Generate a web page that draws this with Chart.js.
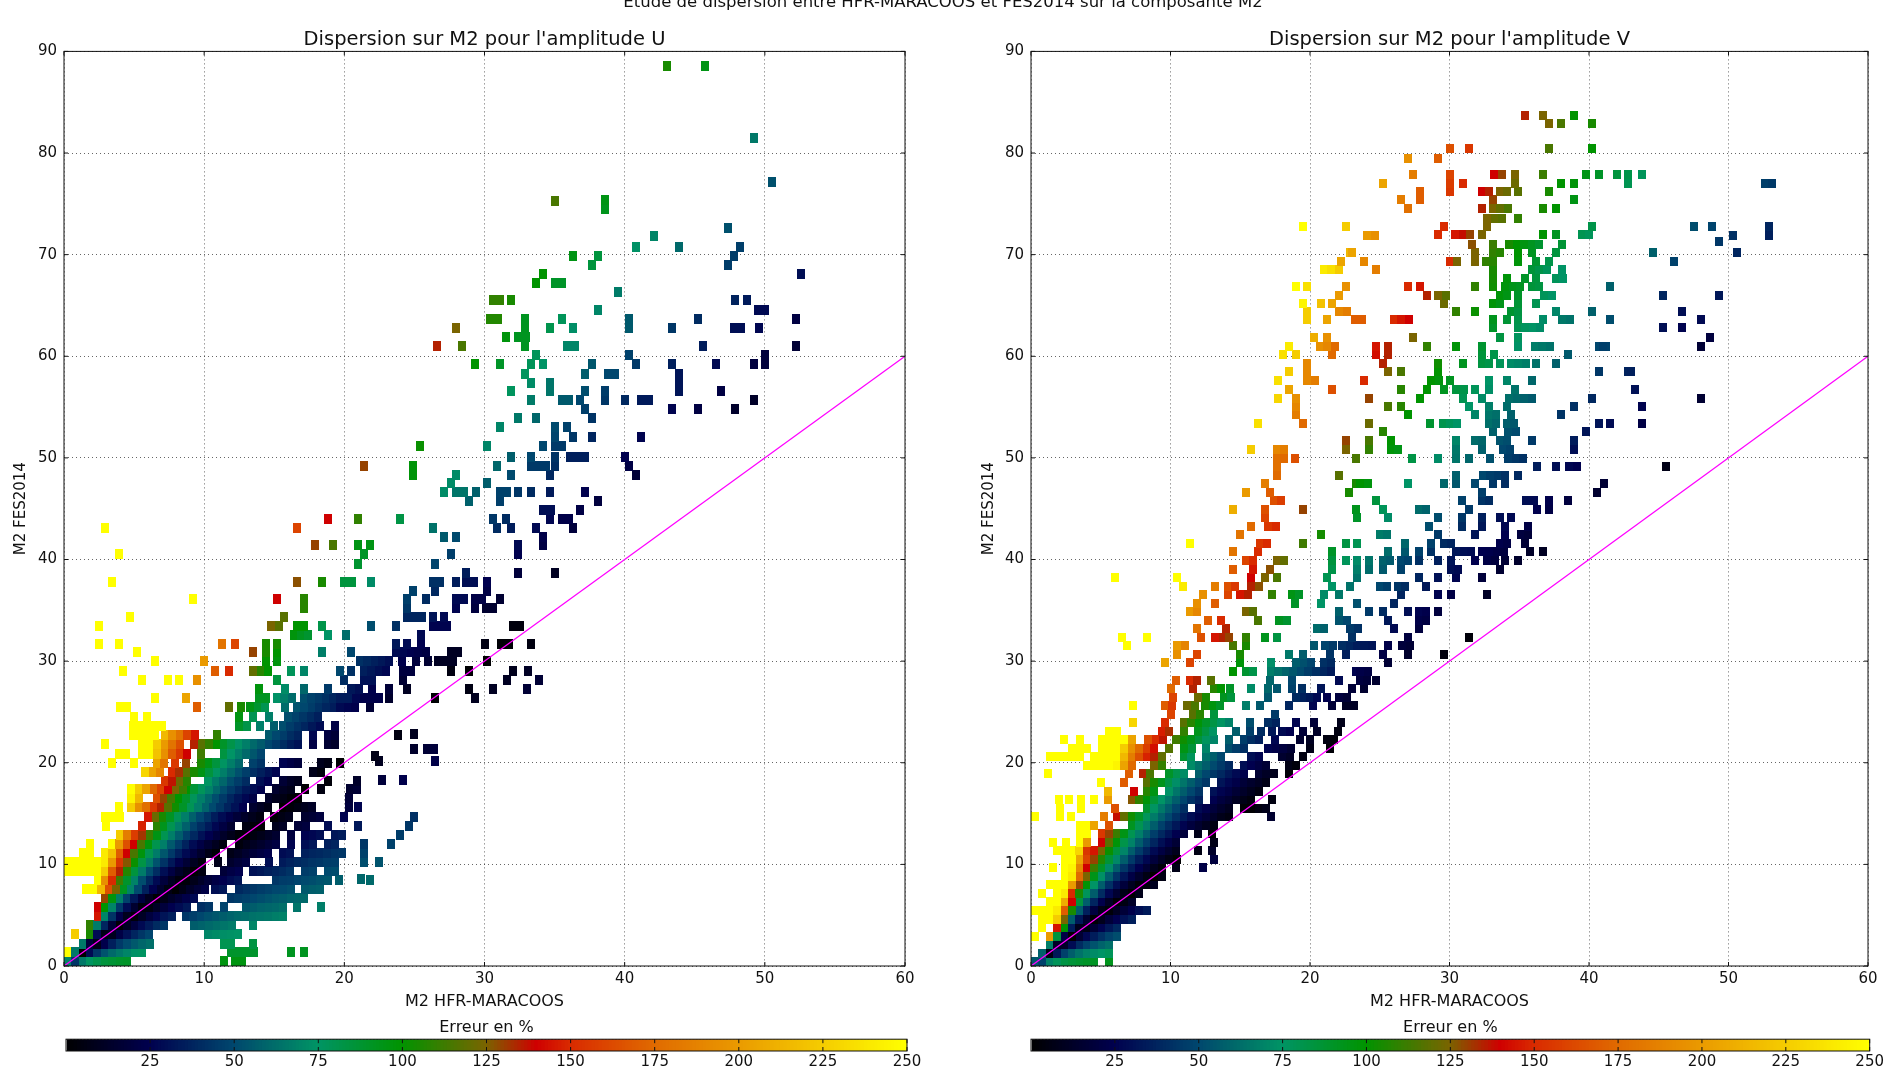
<!DOCTYPE html>
<html>
<head>
<meta charset="utf-8">
<title>Dispersion M2</title>
<script src="https://cdn.jsdelivr.net/npm/chart.js@4/dist/chart.umd.min.js"></script>
<style>
  html, body { margin: 0; height: 100%; background: #fff; overflow: hidden; }
  canvas { position: absolute; filter: blur(0.65px); }
  #title { position: absolute; left: 0; width: 1886px; top: -7px; text-align: center; font: 16.5px "DejaVu Sans"; line-height: 18px; color: #111; filter: blur(0.6px); }
</style>
</head>
<body>
<div id="title">Etude de dispersion entre HFR-MARACOOS et FES2014 sur la composante M2</div>
<canvas id="panelU" width="925" height="1012" style="left:0;top:0"></canvas>
<canvas id="panelV" width="921" height="1012" style="left:965px;top:0"></canvas>
<canvas id="barU" width="932" height="53" style="left:0;top:1016px"></canvas>
<canvas id="barV" width="921" height="53" style="left:965px;top:1016px"></canvas>
<script>
// every row: [amplitude FES2014, first HFR amplitude of the run, error % of each cell in the run]
const xTicksMax = 60;
const yTicksMax = 90;
const barLabels = [25, 50, 75, 100, 125, 150, 175, 200, 225, 250];
const cmapValues = [0, 25, 50, 75, 100, 125, 140, 150, 175, 200, 225, 250];
const cmapColors = ["#000000", "#00004e", "#00476e", "#009465", "#009400", "#7a6400", "#cf0000", "#d92a00", "#e06a00", "#ea9a00", "#f5cc00", "#ffff00"];
const diagonal = [0, 60];

const uLow = [
[0.45,0.27,70,44,66,76,81,85,87,89,90],[0.45,11.4,96],[0.45,12.2,96,96],
[1.33,0.27,250,66,0,28,44,54,61,66,70,74,76],[1.33,11.9,89],[1.33,12.5,89,89,89],[1.33,16.2,92],[1.33,17.1,92],
[2.2,1.33,66,19,8,24,36,45,51,56,60,63],[2.2,11.4,80,80],[2.2,13.5,84],
[3.1,0.8,225],[3.1,1.85,105,29,7,10,22,31,38,44,49],[3.1,10.3,70,72,73,74,75],
[4,1.85,110,67,38,18,2,11,20,28,34,40,44],[4,9.3,57,59,61,63,65],[4,12,67],[4,13.5,70],
[4.9,2.4,145,70,43,23,9,3,12,20,26,32,36],[4.9,8.7,44,47,50,53,55,57,59,61,62,64],[4.9,14,65,66],[4.9,15.1,68,69],
[5.8,2.4,140,100,70,45,29,15,4,5,12,19,25,29,33],[5.8,9.8,41,44],[5.8,11.4,49],[5.8,13,55,57,59,60,61,63],[5.8,16.6,65],[5.8,18.3,68],
[6.7,2.9,130,97,68,48,33,20,10,1,7,13,18,23,28],[6.7,11.9,44,46],[6.7,13,48,50,52,54,56,57,59,60],[6.7,17.1,61],
[7.6,1.6,250,250,215,165,125,92,69,51,36,25,15,6,1,7,13,18,22],[7.6,10.8,30,33],[7.6,12.5,39,42,44,46,48,50,51,53],[7.6,17.2,56,57,58],
[8.5,2.4,250,195,150,113,89,69,52,39,28,19,11,4,3,8,13],[8.5,10.3,18,22,25,29,32],[8.5,15.1,44,46,47,49,51,52,54],[8.5,18.8,55],[8.5,19.6,57],[8.5,21.8,61],[8.6,21.2,60],
[9.3,0.27,250,250,250,250,250,225,170,135,107,85,67,52,41,30,21,13,7,1,5],[9.3,11.4,18,22,25],[9.3,13.5,31,33,36,38,40,43],[9.3,17.2,46,48],[9.3,18.8,51,52],
[10.2,0.27,250,250,250,250,250,240,200,155,127,102,83,67,54,43,33,24,17,10,4],[10.2,11,8],[10.2,11.9,14,18,21],[10.2,14.6,30],[10.2,15.6,34,37,39,41,43,44,46,47],[10.2,21.4,52],[10.2,22.5,54],
[11.1,1.33,250,250],[11.1,2.9,240,220,170,140,115,97,80,67,55,45,36,28,21,14,7,2],[11.1,11.9,7,11,15,18,21,24],[11.1,15.6,29,31],[11.1,17.2,36,38,39,41,43,44],[11.1,21.4,48],
[12,1.85,250],[12,3.4,250,200,165,140,115,97,81,68,56,46,37,29,22,16,10,5],[12,12.5,4,8,11,14,18,21],[12,16.2,26],[12,17.2,30,33],[12,18.8,36,38],[12,21.4,44],[12,23.3,48],
[12.9,4,225,185,157,132,112,95,80,68,57,47,39,31,25,19,13,8,3,1,5,8,12,15],[12.9,16.2,20],[12.9,17.2,25,27,30],[12.9,19.3,33,35],[12.9,24,46],
[13.8,5.6,148],[13.8,3,250],[13.8,6.6,108,93,80,68,58,48,41,34,27,21,15],[13.8,13,6,2,1],[13.8,15.1,9,12],[13.8,16.7,18,20],[13.8,18.8,29],[13.8,21,33],[13.8,24.6,44],
[14.7,2.9,250,250,250],[14.7,6,145,122,105,91,79,68,58,50,43,35,29,23,18,13,9,5],[14.7,15,2,6,9],[14.7,17.2,15,17,20],[14.7,20,26],[14.7,25,42],
[15.6,3.9,250],[15.6,4.8,225,195,178,155,135,118,103,90,79,68,59,51,44,37,31,25],[15.6,13.5,15,11,7],[15.6,15.6,0,3,6,9,12],[15.6,20.3,20],[15.6,21,26],
[16.5,4.8,245,215],[16.5,6.6,165,130,114,100,89,78,68,60,52,45,38,32,27,22],[16.5,14.6,13,9,6,2,1],[16.5,20.3,18],
[17.4,4.8,250,225,205,175,160,140,125,112,100],[17.4,9.3,87,78,69,60,52,45,39,33,29,24],[17.4,15.1,15,11,8],[17.4,17.2,1],[17.4,18.3,5],[17.4,20.4,15,17],
[18.2,7.2,155,137,122,108],[18.2,10.3,76,67,60,52,46,40],[18.2,14,30,25],[18.2,15.6,17],[18.2,16.2,12,9],[18.2,18.8,3],[18.2,20.9,13],[18.3,22.7,19],[18.3,24.2,24],
[19.1,5.8,230,205,190],[19.1,7.7,150,133,118,105,95,85,76,68,60,53,47,41,36,31,26],[19.1,17.8,8,4],
[20,3.4,250],[20,5,250],[20,6.6,205,180],[20,7.9,155],[20,8.7,130],[20,9.8,105,95,85,76,68,60],[20,13.5,48,43],[20,15.6,26],[20,16.2,22,19],[20,18.3,9,6],[20,19.7,1],[20.2,22.5,10],[20.2,26.5,23],
[20.9,3.9,250,250],[20.9,5.6,250,250,220,195,170,155,140],[20.9,9.8,113],[20.9,11.4,84,75,68,61,55,49],[20.7,22.2,7],
[21.8,2.9,250],[21.8,5.6,250,250,225,200,180,165],[21.8,9.3,135,118,110,100,90,82,74,68,61,56,50,45,40,35,31],[21.8,17.8,22],[21.8,18.8,16,13],[21.4,25,14],[21.4,25.9,17,19],
[22.7,4.9,250,250,250,250],[22.7,7.2,215,195,180,160,145],[22.7,10.9,110],[22.7,14.6,56,50,46,41,37],[22.7,17.8,27],[22.7,18.8,21,18],[22.7,23.8,5],[22.8,25,10],
[23.6,4.9,250,250,250,250,250],[23.6,12.5,90,82],[23.6,14,68],[23.6,15,57],[23.6,15.6,52,46,42,38,33,29],[23.6,19.3,22],
[24.5,5,250],[24.5,5.9,250],[24.5,12.5,96],[24.5,13.5,80],[24.5,14.6,68],[24.5,16,52,48,44,40,36]
];
const uMid = [
[25.5,4,250,250],[25.5,9.5,170],[25.5,11.8,120],[25.5,12.6,105],[25.5,13.3,95,88,80],[25.5,15.8,62],[25.5,16.6,54,50,46,42,38,35],[25.5,19.7,28,26,24],[25.5,21.8,17],
[26.4,6.5,250],[26.4,8.7,205],[26.4,13.9,92,92],[26.4,15.2,74,68,62],[26.4,17.1,52,48,45,42,38],[26.4,19.7,34,34],[26.4,20.8,27],[26.4,21.4,23,23,23],[26.4,23.2,14],[26.4,26.5,1],[26.4,29.3,10],
[27.3,13.9,97],[27.3,15.8,72],[27.3,17.1,60],[27.3,18.8,45],[27.3,20.5,33,30],[27.3,22,24],[27.3,23.2,18],[27.3,24.5,11],[27.3,28.9,6],[27.3,30.6,11],[27.3,33,17],
[28.1,5.6,250],[28.1,7.4,250],[28.1,8.2,250],[28.1,9.5,195],[28.1,15.2,85],[28.1,20,40],[28.1,21.4,31],[28.1,22,31],[28.1,24.2,16],[28.1,31.6,11],[28.1,33.9,17],
[29,4.2,250],[29,10.8,170],[29,11.8,150],[29,13.5,120,108,100],[29,16.2,78],[29,17.1,70],[29,19.7,50],[29,20.5,42],[29,21.4,36,33,30,27],[29,24.2,20,20],[29,27.6,5],[29,28.9,1],[29,32,9],[29,33.1,12],
[30,6.5,250],[30,10,200],[30,14.4,100],[30,15.2,97],[30,21.1,42,39,36,33,30],[30,24.1,24],[30,25.1,20],[30,26,16],[30,26.7,11,11,11],[30,30.2,1],
[30.9,5.2,250],[30.9,13.5,130],[30.9,14.4,105],[30.9,15.2,100],[30.9,18.4,68],[30.9,20.5,50],[30.9,23.7,29,27,25,23,21],[30.9,27.6,11,11],
[31.7,2.5,250],[31.7,3.9,250],[31.7,11.3,180],[31.7,12.2,160],[31.7,14.4,105],[31.7,15.2,105],[31.7,23.7,33],[31.7,24.5,29],[31.7,25.5,25],[31.7,30,6],[31.7,31.2,2,2],[31.7,33.3,5],
[32.6,16.4,97],[32.6,16.9,92,88],[32.6,18.8,75],[32.6,20.1,62],[32.6,25.5,28],
[33.5,2.5,250],[33.5,14.8,125,118],[33.5,16.6,100,100],[33.5,18.4,82],[33.5,21.9,52],[33.5,23.7,42],[33.5,26.3,26,26,26],[33.5,32,4,4],
[34.3,4.7,250],[34.3,15.7,118],[34.3,24.5,38,38,38],[34.3,26.3,32],[34.3,27.1,28],
[35.2,17.1,108],[35.2,24.5,44],[35.2,28,26],[35.2,29.3,20],[35.2,30.1,15,15],
[36.1,9.2,250],[36.1,15.2,140],[36.1,17.1,108],[36.1,24.5,47],[36.1,25.8,40],[36.1,28,28,28],[36.1,29.3,22,22],[36.1,31.1,16],
[36.9,24.9,48],[36.9,26.5,39],[36.9,30.2,22],
[37.8,3.4,250],[37.8,16.6,128],[37.8,18.4,105],[37.8,20,85,85],[37.8,21.9,72],[37.8,26.3,42,42],[37.8,28,35],[37.8,28.7,30,30],[37.8,30.2,25],
[38.7,28.7,35],[38.7,32.4,19],[38.7,35,11],
[39.6,21,88],[39.6,26.5,49],
[40.5,3.9,250],[40.5,21.4,90],[40.5,27.6,47],[40.5,32.4,25],
[41.4,17.9,130],[41.4,19.2,115],[41.4,21,95],[41.4,21.8,95],[41.4,32.4,28],[41.4,34.2,21],
[42.2,27.1,56],[42.2,28,51],[42.2,34.2,23],
[43.1,2.9,250],[43.1,16.6,160],[43.1,26.3,64],[43.1,30.9,40],[43.1,31.9,35],[43.1,33.7,28],[43.1,36.3,19],
[44,18.8,140],[44,21,110],[44,24,83],[44,30.6,44],[44,31.5,40],[44,34.7,27],[44,35.5,23,23],
[44.9,34.2,30,30],[44.9,36.8,22],
[45.8,28.9,58],[45.8,31.1,47],[45.8,38.1,20],
[46.6,27.1,72],[46.6,28,65,65],[46.6,29.4,58],[46.6,31.1,48,48],[46.6,32.4,44],[46.6,33.3,40],[46.6,34.7,34],[46.6,37.2,25],
[47.5,27.6,72],[47.5,30.2,57],
[48.3,24.9,98],[48.3,28,72],[48.3,31.9,51],[48.3,34.7,39],[48.3,40.8,18]
];
const uHigh = [
[49.2,21.4,130],[49.2,24.9,98],[49.2,30.9,60],[49.2,33.3,45,45,45],[49.2,35,41],[49.2,40.3,22],
[50.1,31.9,57],[50.1,33.3,50],[50.1,35,43],[50.1,36.1,36,36,36],[50.1,40,25],
[51.2,25.4,102],[51.2,30.2,70],[51.2,34.2,50],[51.2,35,45,45],
[52.1,35,49],[52.1,36.3,44],[52.1,37.7,38],[52.1,41.2,26],
[53,31.1,70],[53,35,51],[53,35.9,48],
[53.9,32.4,66],[53.9,33.7,60],[53.9,37.7,43],
[54.8,37.2,47],[54.8,43.4,26],[54.8,45.2,21],[54.8,47.9,14],
[55.7,33.3,67],[55.7,35.5,56,56],[55.7,36.8,50],[55.7,38.6,44],[55.7,40,39],[55.7,41.2,34,34],[55.7,49.2,13],
[56.6,31.9,77],[56.6,34.7,65],[56.6,37.2,52],[56.6,38.6,46],[56.6,43.9,32],[56.6,46.9,21],
[57.4,33.3,72],[57.4,34.7,65],[57.4,43.9,32],
[58.3,32.9,77],[58.3,37.2,57],[58.3,38.8,50,50],[58.3,43.9,32],
[59.2,29.3,100],[59.2,31.1,90],[59.2,33.3,78],[59.2,34.2,75],[59.2,37.7,55],[59.2,40.8,45],[59.2,43.4,36],[59.2,46.5,28],[59.2,49.2,20],[59.2,50,19],
[60.1,33.7,78],[60.1,40.3,48],[60.1,50,19],
[61,26.6,135],[61,28.4,115],[61,32.9,92],[61,35.9,70,70],[61,45.6,35],[61,52.2,17],
[61.9,31.5,97],[61.9,32.4,92,92],
[62.8,28,125],[62.8,32.9,92],[62.8,34.7,81],[62.8,36.3,73],[62.8,40.3,56],[62.8,43.4,44],[62.8,47.8,30,30],[62.8,49.6,27],
[63.7,30.4,107,107],[63.7,32.9,92],[63.7,35.5,78],[63.7,40.3,56],[63.7,45.2,40],[63.7,52.2,21],
[64.6,38.1,70],[64.6,49.5,28,28],
[65.5,30.6,110,110],[65.5,31.9,105],[65.5,47.9,37],[65.5,48.7,34],
[66.3,39.5,67],
[67.2,33.7,100],[67.2,35,90,90],
[68.1,34.2,100],[68.1,52.6,30],
[69,37.7,85],[69,47.4,46],
[69.9,36.3,95],[69.9,38.1,85],[69.9,47.8,46],
[70.8,40.8,74],[70.8,43.9,61],[70.8,48.2,47],
[71.8,42.1,70],
[72.6,47.4,53],
[74.5,38.6,93],[75.3,35,115],[75.4,38.6,95],
[77.1,50.5,53],[81.5,49.2,66],
[88.6,43,105],[88.6,45.7,95]
];

const vLow = [
[0.42,0.27,55,48,69,78,83,86,88,90,91],[0.42,5.62,93],
[1.26,0.8,58,6,33,48,57,64,69,72,75,78],
[2.1,1.34,68,12,13,29,40,48,54,59,63],
[2.94,0.27,250],[2.94,1.34,200,85,22,1,16,27,35,42,48,52],
[3.78,0.8,250],[3.78,1.87,145,100,35,9,6,17,26,33,39],
[4.62,0.8,250,250,225,125,57,33,15,2,9,18,25,31,36],
[5.46,0.27,250,250,250,240,170,105,57,36,20,8,3,11,18,24,30,34],
[6.3,1.34,250,250,210,140,85,57,38,24,12,2,6,13],
[7.14,0.8,250],[7.14,1.87,250,240,150,105,78,57,40,27,16,7,1,8],
[7.98,1.34,250,250,250,200,130,99,75,57,42,30,19,10,3,4,10],
[8.82,2.41,250,240,175,125,94,74,57,43,32,22,14,6,0,6],
[9.66,1.6,250],[9.66,2.41,250,245,190,140,112,90,72,57,44,34,25,17,9,3],[9.66,10.4,7],[9.66,12.3,22],
[10.5,2.41,250,250,205,160,130,107,87,71,57,45,35,27,19,12,6,1],[10.5,13.1,20],
[11.34,1.87,250,250,250,230,155,145,125,102,85,70,57,46,37,28,21,15,9],[11.34,12,6],[11.34,13,13],
[12.18,1.6,250],[12.18,2.5,250],[12.18,3.5,250,200],[12.18,5.08,140,118,98,82,69,57,47,38,30,23,17],[12.18,13.1,7],
[13.02,3.48,250,250],[13.02,5.08,155,130,112,95],[13.02,7.22,80,68,57,47,39,32,25,19],[13.02,12,8],[13.02,13,1],
[13.86,3.48,250,250,205],[13.86,5.62,165],[13.86,7.22,92,80,68,57,48,40,33,26,20,15,10,6],
[14.7,0.3,250],[14.7,2.1,250],[14.7,2.9,250],[14.7,5.2,185],[14.7,6.15,138,120,103,90,78,67,58,50,42,35,29,23,18,13,8,5],[14.7,17.2,15],
[15.54,2.1,250],[15.54,3.6,250],[15.54,6,165],[15.54,8.29,88,76,66,57,49,41],[15.54,12.04,29,24,19,14,10],[15.54,15.25,2,1,5,8],
[16.38,2,250],[16.38,2.7,250],[16.38,3.6,250],[16.38,4.5,250],[16.38,5.5,200],[16.38,7.22,127,110,98,86,75,66,57,49,42,36],[16.38,13.1,25,20,16,11,7,4],[16.38,17.3,5],
[17.22,5.5,215],[17.22,7.4,140],[17.22,8.29,108,95],[17.22,9.9,74,65,57,50,43],[17.22,13.1,31,26,22,17,13,9,5],
[18.06,5,250],[18.06,6.7,170],[18.06,8.29,118,105,93,83,73,65,57,50,44],[18.06,13.64,32,27,23,18,14,11,7],
[18.9,1.2,250],[18.9,7,170],[18.9,8,135,115],[18.9,9.9,90,81],[18.9,10.97,72],[18.9,12.04,57,50,44,39,33,28,24],[18.9,16.32,16,12,9],[18.9,18.46,2],
[19.74,4.01,250,250,250,250,245,205,175],[19.74,8.83,125,110],[19.74,11.5,72,64,57,51,45,39],[19.74,15.25,30,25,21,17],[19.74,18.46,7],[19.74,19,4],
[20.58,1.34,250,250,250,250,250],[20.58,4.55,250,250,250,250,215,185,165,148,135,120],[20.58,10.97,88,78],[20.58,12.57,64,57,50],[20.58,15.78,30,26],[20.58,18,15,12],[20.58,19.5,5],
[21.42,2.94,250,250,250],[21.42,5.08,250,250,250,225,195,175,158,143],[21.42,9.9,117],[21.42,11,95,86],[21.42,12.57,70],[21.42,14.17,52,46,41],[21.42,17,26,23,20,16],[21.42,20,7],[21.42,21.4,2],
[22.26,2.4,250],[22.26,3.5,250],[22.26,5.08,250,250,250,250,205],[22.26,8.4,165,150,137],[22.26,10.43,113,103,94,86,77,70],[22.26,14.17,57],[22.26,15.25,46,41,36],[22.26,17.5,27],[22.26,19.3,15],[22.26,20,11],[22.26,21.2,5,3],
[23.1,5.6,250,250],[23.1,9.36,147,133],[23.1,11,110],[23.1,12,93,84,76],[23.1,14.7,57],[23.1,15.7,47],[23.1,16.5,40],[23.1,17.3,33],[23.1,18,28,25],[23.1,19.5,18],[23.1,20.5,13],[23.1,22,5],
[23.94,7.3,230],[23.94,9.6,150],[23.94,10.97,118,108,98,90,83,76,69],[23.94,15.7,52],[23.94,17,41,37],[23.94,19,26],[23.94,20.3,18],[23.94,22.2,8],
[24.78,10,160],[24.78,11.6,118,108],[24.78,13.1,85],[24.78,17.5,45]
];
const vMid = [
[25.62,7.3,250],[25.62,9.6,170,155],[25.62,11.2,122,115],[25.62,12.5,105,97,90],[25.62,15.4,68],[25.62,16.4,56],[25.62,18.5,38],[25.62,20.2,27],[25.62,21.6,18],[25.62,22.6,12,12],
[26.46,10.2,160],[26.46,12,122,105],[26.46,13.8,92,85],[26.46,17,55],[26.46,19,40,36],[26.46,20,33,28],[26.46,21.2,25],[26.46,22.1,20,17],
[27.3,10,175],[27.3,11.6,135],[27.3,13.1,108,100],[27.3,14.3,90],[27.3,15.8,72],[27.3,17,60],[27.3,17.6,55],[27.3,18.7,48],[27.3,19.4,41],[27.3,20.8,32],[27.3,23,18],[27.3,23.9,15],
[28.14,10.4,170],[28.14,11.4,150,135],[28.14,12.9,118],[28.14,17.1,60],[28.14,18.7,50],[28.14,22.1,28],[28.14,23.6,20],[28.14,24.1,18],[28.14,24.7,15],
[28.98,14.5,100],[28.98,15.4,88,82],[28.98,17.2,68,64,59,55,51,46,42],[28.98,21,38,34],[28.98,23.3,26],[28.98,23.6,23,21],
[29.82,9.6,205],[29.82,11.4,160],[29.82,15,98],[29.82,17.2,73],[29.82,19,57,53,49],[29.82,21,42,39],[29.82,25.6,17],
[30.66,10.5,195],[30.66,11.9,160],[30.66,15,105],[30.66,18.5,66],[30.66,19.5,57],[30.66,21.4,43],[30.66,22.6,36],[30.66,25.2,22],[30.66,27,14],[30.66,29.6,4],
[31.5,6.9,250],[31.5,10.5,200,188],[31.5,14.5,115],[31.5,15.4,105],[31.5,20.3,55],[31.5,21.1,49,45],[31.5,22.3,41,38,35,33,32],[31.5,25.6,23],[31.5,26.6,19,17],
[32.34,6.5,250],[32.34,8.3,250],[32.34,12.2,165],[32.34,13.2,145,135],[32.34,14.2,130],[32.34,15.4,110],[32.34,16.8,93],[32.34,17.6,84],[32.34,23,42],[32.34,27,20],[32.34,31.4,3],
[33.18,11.9,180],[33.18,14,135],[33.18,20.5,62],[33.18,21,58],[33.18,22.9,45,42],[33.18,26,28],[33.18,27.8,20],
[34.02,12.7,170],[34.02,13.6,150],[34.02,16.3,115],[34.02,17.8,92,88],[34.02,22.1,54,50],[34.02,25.6,33],[34.02,27.8,23,21],
[34.86,11.4,200,190],[34.86,15.4,125,118],[34.86,22.1,58],[34.86,24.2,45],[34.86,25.2,40],[34.86,27,30],[34.86,27.8,26,24],[34.86,29.2,20],
[35.7,11.9,195],[35.7,13.2,170],[35.7,18.9,90],[35.7,20.8,75],[35.7,23.4,53],[35.7,26,38],
[36.54,12.3,195],[36.54,14.1,160],[36.54,15,145,135],[36.54,17.3,110],[36.54,18.7,95,90],[36.54,21,72],[36.54,22.1,66],[36.54,26.5,38],[36.54,29.2,26],[36.54,30.1,22],[36.54,32.7,12],
[37.38,10.9,240],[37.38,13.2,185],[37.38,14.1,165,155],[37.38,15.8,135,128],[37.38,21.6,75],[37.38,22.9,64],[37.38,25,50,47],[37.38,26.3,44,41],[37.38,28.3,33],
[38.22,6,250],[38.22,10.5,250],[38.22,15.8,140],[38.22,16.8,125],[38.22,17.6,115],[38.22,21.2,80],[38.22,23.4,64],[38.22,27.8,38],[38.22,29.2,31],[38.22,30.5,26],[38.22,32.3,19],
[39.06,14.5,170],[39.06,15.9,145],[39.06,17.1,128],[39.06,21.6,82],[39.06,23.4,68],[39.06,24.2,62],[39.06,25.2,56],[39.06,26.5,48],[39.06,30.1,30,28],[39.06,33.6,16],
[39.9,15.4,160,150],[39.9,17.6,125,120],[39.9,21.6,85],[39.9,22.6,78],[39.9,23.4,72],[39.9,24.2,65],[39.9,25.2,58,56],[39.9,26.5,50,48],[39.9,27.8,42],[39.9,29.2,36],[39.9,30.1,32],[39.9,31.8,25],[39.9,32.7,22,20],[39.9,34,17],[39.9,34.9,14],
[40.74,14.5,180],[40.74,16.3,150],[40.74,21.6,90],[40.74,25.6,62],[40.74,26.8,55],[40.74,27.8,48],[40.74,28.7,42],[40.74,30.5,33,30,29],[40.74,32.3,25,24,22,20],[40.74,35.8,13],[40.74,36.7,11],
[41.58,11.4,250],[41.58,16.4,155,150],[41.58,19.5,113],[41.58,22.6,84],[41.58,23.4,80],[41.58,26.8,60],[41.58,28.7,48],[41.58,29.6,40,38],[41.58,33.6,24,22],[41.58,35.4,17],
[42.42,15,180],[42.42,20.8,104],[42.42,25,67,65],[42.42,29.2,45],[42.42,31.8,32],[42.42,34,25],[42.42,35.1,20,18],
[43.26,15.8,175],[43.26,17,155,150],[43.26,28.5,52],[43.26,30.9,40],[43.26,32.3,33],[43.26,34,27],[43.26,35.6,22],
[44.1,16.8,160],[44.1,23.4,90],[44.1,25.6,72],[44.1,29.2,52],[44.1,30.9,44],[44.1,32.3,36],[44.1,33.6,30],[44.1,34.4,28],
[44.94,14.5,210],[44.94,16.8,165],[44.94,19.5,130],[44.94,23.3,93],[44.94,25.2,78],[44.94,27.8,62,59],[44.94,31.4,45],[44.94,36.3,25],[44.94,37.1,22],
[45.78,17.4,165,158],[45.78,24.7,85],[45.78,30.9,48],[45.78,32.3,43,40],[45.78,35.5,30,28],[45.78,37.1,24],[45.78,38.5,20],
[46.62,15.4,200],[46.62,17.1,170],[46.62,22.8,105],[46.62,32.3,47],[46.62,40.6,15],
[47.46,16.8,185],[47.46,23.3,105],[47.46,23.6,100,97],[47.46,27,75],[47.46,29.6,60],[47.46,30.5,55],[47.46,31.8,50],[47.46,33.1,44],[47.46,34,40],[47.46,41.1,17],
[48.3,17.6,175],[48.3,22.1,118],[48.3,30.5,58],[48.3,32.4,50,47,45],[48.3,34,42],[48.3,34.9,39],
[49.14,17.6,178],[49.14,36.3,35],[49.14,37.6,30],[49.14,38.6,27,25],[49.14,45.5,7],
[49.98,17.6,178,175],[49.98,18.9,165],[49.98,23.3,115],[49.98,27.3,83],[49.98,29.2,72],[49.98,30.5,65],[49.98,31.4,60],[49.98,32.9,53],[49.98,34.2,46,44,42],
[50.82,15.8,225],[50.82,17.6,190,185],[50.82,22.6,125],[50.82,24.2,110],[50.82,25.8,98,95],[50.82,30.5,66],[50.82,32.3,58],[50.82,33.8,50,48],[50.82,38.9,30]
];
const vHigh = [
[51.7,22.6,130],[51.7,24.2,115],[51.7,25.8,100],[51.7,30.5,70],[51.7,31.8,62,60],[51.7,33.6,54,52],[51.7,35.9,45],[51.7,38.9,35],
[52.6,25.2,108],[52.6,33.1,58],[52.6,34.2,53,51],[52.6,39.8,32],
[53.4,16.3,235],[53.4,19.5,175],[53.4,24.2,122],[53.4,28.6,88],[53.4,29.5,81,78,75],[53.4,32.8,63,60],[53.4,34.1,57,55],[53.4,40.7,32],[53.4,41.5,29],[53.4,43.8,22],
[54.3,19,185],[54.3,27,100],[54.3,31.8,70],[54.3,32.8,65,63],[54.3,34.4,58],[54.3,38,43],
[55.1,19,190],[55.1,25.6,115],[55.1,26.5,108],[55.1,31.4,75],[55.1,32.8,68],[55.1,34.1,62],[55.1,38.9,42],[55.1,43.8,26],
[55.8,17.7,230],[55.8,19,195],[55.8,24.2,130],[55.8,27.9,100],[55.8,31,80],[55.8,32.3,72],[55.8,34.3,63,61,58,56],[55.8,40.2,39],[55.8,48,16],
[56.7,18.5,205],[56.7,21.6,165],[56.7,26.5,108],[56.7,28.4,100],[56.7,29.6,92],[56.7,30.5,85,82],[56.7,31.8,78],[56.7,32.8,73],[56.7,34.7,64],[56.7,43.3,31],
[57.6,17.7,235],[57.6,19.8,190,185],[57.6,23.9,150],[57.6,28.7,100,97],[57.6,30,92],[57.6,32.8,75],[57.6,34.1,70],[57.6,35.9,60],
[58.5,18.5,225],[58.5,19.8,190],[58.5,25.6,125],[58.5,26.5,115],[58.5,29.2,100],[58.5,40.7,44],[58.5,42.8,37],[58.5,43,36],
[59.3,19.8,190],[59.3,25.2,135],[59.3,29.2,103],[59.3,31,92],[59.3,32.3,84,82],[59.3,33.6,78],[59.3,34.4,72,70,68],[59.3,36.2,64],[59.3,37.6,58],
[60.2,18.1,235],[60.2,19,225],[60.2,21.6,175],[60.2,24.7,143],[60.2,25.6,135],[60.2,32.3,86],[60.2,33.2,82],[60.2,38.5,56],
[61,18.5,240],[61,20.7,195,190,175],[61,24.7,145],[61,25.6,135],[61,28.4,110],[61,30.5,98],[61,32.3,88],[61,34.9,74],[61,36.1,68,66,64],[61,40.7,50,48],[61,41,47],[61,48,17],
[61.8,20.3,210],[61.8,21.2,195],[61.8,27.4,125],[61.8,33.6,84],[61.8,34.9,77],[61.8,48.7,20],
[62.8,33.1,90],[62.8,34.9,80,77,75,72],[62.8,45.3,30],[62.8,46.7,26],
[63.6,19.8,225],[63.6,21.2,205],[63.6,23.2,170,170],[63.6,26,150,145,140],[63.6,33.1,93],[63.6,34.1,87],[63.6,34.9,82],[63.6,36.7,72],[63.6,38.1,66,64],[63.6,41.5,52],[63.6,48,28],
[64.4,19.8,225],[64.4,22.1,190,185],[64.4,30.5,110],[64.4,31.8,102],[64.4,34.4,88],[64.4,34.9,84],[64.4,37.6,70],[64.4,40.2,58],[64.4,46.7,30],
[65.2,19.5,245],[65.2,20.8,220],[65.2,21.6,205],[65.2,29.6,122],[65.2,33.1,98,94],[65.2,34.9,87],[65.2,36.2,80],
[66,22.1,200],[66,28.4,135],[66,29.2,125,118],[66,33.6,98,95],[66,34.9,90],[66,36.8,78,75],[66,45.3,38],[66,49.3,33],
[66.9,19,250],[66.9,19.8,235],[66.9,22.6,195],[66.9,27,150],[66.9,27.9,145],[66.9,31.8,110],[66.9,33.1,103],[66.9,34,97,94,92],[66.9,35.9,86,84],[66.9,41.5,58],
[67.7,33.1,104],[67.7,34.1,98],[67.7,35.4,90],[67.7,36.2,85],[67.7,37.6,78,75],
[68.5,21,240,235,225],[68.5,24.7,185],[68.5,33.1,105],[68.5,35.9,86,82,78],[68.5,38.1,75],
[69.3,22.2,205],[69.3,23.9,190],[69.3,30,150,125],[69.3,31.8,125],[69.3,32.6,110,108],[69.3,34.9,98],[69.3,36.2,88],[69.3,37.1,82],[69.3,46.1,48],
[70.2,22.9,215],[70.2,23,205],[70.2,31.8,125],[70.2,33.1,110,108],[70.2,34.9,100],[70.2,35.9,92],[70.2,37.6,85],[70.2,44.6,58],[70.2,50.6,38],
[71,31.6,128],[71,33.1,112],[71,34.3,105,100,96,92,88],[71,38.1,87],[71.3,49.3,44],
[71.9,24.1,200,195],[72,29.2,150],[72,30.4,145,138,130],[72,32.3,125],[72,36.7,100],[72,37.6,92],[72,39.5,80,78],[71.9,50.3,42],[71.9,52.9,36],
[72.8,19.5,250],[72.8,22.6,225],[72.8,29.6,150],[72.8,32.7,125],[72.8,40.2,82],[72.8,47.5,52],[72.8,48.8,49],[72.8,52.9,38],
[73.6,32.7,125,120,118],[73.6,34.9,110],
[74.5,27,178],[74.5,32.3,135],[74.5,33.1,125,120,115],[74.5,36.7,105],[74.5,37.6,100],
[75.4,26.5,185],[75.4,27.9,170],[75.4,33.1,130],[75.4,38.9,95],
[76.2,27.9,170],[76.2,30,155],[76.2,32.3,140,135],[76.2,33.6,125,122],[76.2,34.9,118],[76.2,37.1,105],
[77,25.2,205],[77,30,157],[77,31,150],[77,34.7,122],[77,38,100],[77,38.9,98],[77,42.8,80],[77,52.6,47,45],
[77.9,27.4,185],[77.9,30,160],[77.9,33.2,140,130],[77.9,34.7,125],[77.9,36.7,112],[77.9,39.8,95],[77.9,40.7,90],[77.9,42,85],[77.9,42.8,82],[77.9,43.8,78],
[79.5,27,195],[79.5,29.2,170],
[80.4,30,165],[80.4,31.4,155],[80.4,37.1,115],[80.4,40.2,100],
[82.9,37.1,125],[82.9,38,115],[82.9,40.2,105],
[83.7,35.4,135],[83.7,36.7,125],[83.7,38.9,100]
];

function hexRgb(h) {
  return [1, 3, 5].map((i) => parseInt(h.slice(i, i + 2), 16));
}

function errorColor(e) {
  let k = 0;
  while (k < cmapValues.length - 2 && e > cmapValues[k + 1]) k++;
  const t = Math.min(1, Math.max(0, (e - cmapValues[k]) / (cmapValues[k + 1] - cmapValues[k])));
  const a = hexRgb(cmapColors[k]);
  const b = hexRgb(cmapColors[k + 1]);
  return "rgb(" + a.map((v, i) => Math.round(v + (b[i] - v) * t)).join(",") + ")";
}

// scatter points use a small filled canvas as pointStyle, so the cells stay rectangular
const cellCache = {};
function cellImage(e, h) {
  const key = e + "_" + h;
  if (!cellCache[key]) {
    const c = document.createElement("canvas");
    c.width = 8;
    c.height = h;
    const g = c.getContext("2d");
    g.fillStyle = errorColor(e);
    g.fillRect(0, 0, 8, h);
    cellCache[key] = c;
  }
  return cellCache[key];
}

function rowsToPoints(rows, step) {
  const pts = [];
  rows.forEach(([y, x0, ...errs]) => {
    errs.forEach((e, k) => pts.push({ x: x0 + k * step, y: y, e: e }));
  });
  return pts;
}

const textFont = { family: "DejaVu Sans", size: 15 };
const labelFont = { family: "DejaVu Sans", size: 16, weight: "normal" };

const framePlugin = {
  id: "frame",
  afterDraw(chart) {
    const a = chart.chartArea;
    const g = chart.ctx;
    g.save();
    g.strokeStyle = "#111";
    g.lineWidth = 1;
    g.strokeRect(a.left, a.top, a.width, a.height);
    g.beginPath();
    chart.scales.x.ticks.forEach((t) => {
      const p = chart.scales.x.getPixelForValue(t.value);
      g.moveTo(p, a.bottom);
      g.lineTo(p, a.bottom - 4);
      g.moveTo(p, a.top);
      g.lineTo(p, a.top + 4);
    });
    if (chart.scales.y.options.display) {
      chart.scales.y.ticks.forEach((t) => {
        const p = chart.scales.y.getPixelForValue(t.value);
        g.moveTo(a.left, p);
        g.lineTo(a.left + 4, p);
        g.moveTo(a.right, p);
        g.lineTo(a.right - 4, p);
      });
    }
    g.stroke();
    g.restore();
  },
};

function makePanel(id, title, rows, step, cellH, leftWidth, rightPad, ylabelPad) {
  const ctx = document.getElementById(id).getContext("2d");
  return new Chart(ctx, {
    type: "scatter",
    data: {
      datasets: [
        {
          data: diagonal.map((v) => ({ x: v, y: v })),
          showLine: true,
          borderColor: "#ff00ff",
          borderWidth: 1.3,
          pointRadius: 0,
          order: 0,
        },
        {
          data: rowsToPoints(rows, step),
          pointStyle: (c) => (c.raw ? cellImage(c.raw.e, cellH) : "rect"),
          order: 1,
        },
      ],
    },
    options: {
      responsive: false,
      animation: false,
      devicePixelRatio: 1,
      events: [],
      layout: { padding: { right: rightPad } },
      plugins: {
        legend: { display: false },
        tooltip: { enabled: false },
        title: {
          display: true,
          fullSize: false,
          text: title,
          color: "#111",
          font: { family: "DejaVu Sans", size: 19.5, weight: "normal" },
          padding: { top: 28, bottom: 0 },
        },
      },
      scales: {
        x: {
          type: "linear",
          min: 0,
          max: xTicksMax,
          ticks: { stepSize: 10, color: "#111", font: textFont, padding: 4, maxRotation: 0 },
          grid: { color: "rgba(0,0,0,0.6)", drawTicks: false },
          border: { display: false, dash: [1, 3] },
          title: { display: true, text: "M2 HFR-MARACOOS", color: "#111", font: labelFont, padding: { top: 2, bottom: 1 } },
          afterFit: (s) => { s.height = 46; },
        },
        y: {
          type: "linear",
          min: 0,
          max: yTicksMax,
          ticks: { stepSize: 10, color: "#111", font: textFont, padding: 7 },
          grid: { color: "rgba(0,0,0,0.6)", drawTicks: false },
          border: { display: false, dash: [1, 3] },
          title: { display: true, text: "M2 FES2014", color: "#111", font: textFont, padding: { top: ylabelPad, bottom: 0 } },
          afterFit: (s) => { s.width = leftWidth; },
        },
      },
    },
    plugins: [framePlugin],
  });
}

function makeBar(id, leftPad, rightPad) {
  const levels = Array.from({ length: 250 }, (_, i) => i + 1);
  const ctx = document.getElementById(id).getContext("2d");
  return new Chart(ctx, {
    type: "bar",
    data: {
      datasets: [
        {
          data: levels.map((v) => ({ x: v, y: 1 })),
          backgroundColor: levels.map((v) => errorColor(v)),
          barThickness: 4.5,
          borderWidth: 0,
        },
      ],
    },
    options: {
      responsive: false,
      animation: false,
      devicePixelRatio: 1,
      events: [],
      layout: { padding: { left: leftPad, right: rightPad } },
      plugins: {
        legend: { display: false },
        tooltip: { enabled: false },
        title: {
          display: true,
          fullSize: false,
          text: "Erreur en %",
          color: "#111",
          font: labelFont,
          padding: { top: 2, bottom: 2 },
        },
      },
      scales: {
        x: {
          type: "linear",
          offset: false,
          min: 0,
          max: 250,
          afterBuildTicks: (s) => { s.ticks = barLabels.map((v) => ({ value: v })); },
          ticks: { color: "#111", font: textFont, padding: 2, maxRotation: 0, autoSkip: false },
          grid: { display: false, drawTicks: false },
          border: { display: false },
          afterFit: (s) => { s.height = 18; },
        },
        y: { min: 0, max: 1, display: false },
      },
    },
    plugins: [framePlugin],
  });
}

makePanel("panelU", "Dispersion sur M2 pour l'amplitude U", uLow.concat(uMid, uHigh), 0.53, 10, 64, 20, 12);
makePanel("panelV", "Dispersion sur M2 pour l'amplitude V", vLow.concat(vMid, vHigh), 0.535, 9, 66, 18, 15);
makeBar("barU", 66, 25);
makeBar("barV", 66, 15);
</script>
</body>
</html>
